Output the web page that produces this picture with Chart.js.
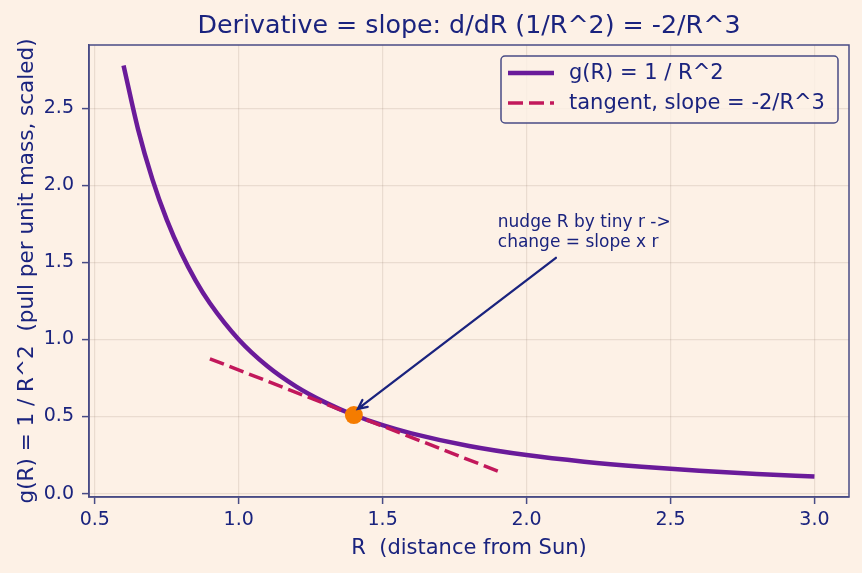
<!DOCTYPE html>
<html>
<head>
<meta charset="utf-8">
<title>Derivative = slope</title>
<script src="https://cdn.jsdelivr.net/npm/chart.js@4.4.1/dist/chart.umd.min.js"></script>
<style>
  html, body { margin: 0; padding: 0; background: #fdf1e6; }
  #wrap { width: 862px; height: 573px; }
</style>
</head>
<body>
<div id="wrap"><canvas id="derivChart"></canvas></div>
<script>
// g(R) = 1/R^2
const rValues = [0.6, 0.65, 0.7, 0.75, 0.8, 0.85, 0.9, 1.0, 1.1, 1.2, 1.3, 1.4, 1.5, 1.6, 1.8, 2.0, 2.2, 2.4, 2.6, 2.8, 3.0];
const gValues = [2.778, 2.367, 2.041, 1.778, 1.563, 1.384, 1.235, 1.000, 0.826, 0.694, 0.592, 0.510, 0.444, 0.391, 0.309, 0.250, 0.207, 0.174, 0.148, 0.128, 0.111];

// tangent line at R = 1.4
const tangentR = [0.9, 1.9];
const tangentG = [0.875, 0.146];

// touch point
const touchR = [1.4];
const touchG = [0.51];

const xTicks = [0.5, 1.0, 1.5, 2.0, 2.5, 3.0];
const yTicks = [0.0, 0.5, 1.0, 1.5, 2.0, 2.5];
const seriesLabels = ['g(R) = 1 / R^2', 'tangent, slope = -2/R^3'];

const titleText = 'Derivative = slope: d/dR (1/R^2) = -2/R^3';
const noteLines = ['nudge R by tiny r ->', 'change = slope x r'];
const noteAt = [1.9, 1.6];       // last line baseline, data coords
const arrowFrom = [2.102, 1.53];
const arrowTo = [1.414, 0.55];

const BG = '#fdf1e6';
const NAVY = '#1a237e';
const SPINE = '#484b85';
const GRID = 'rgba(150, 130, 110, 0.18)';
const PURPLE = '#6a1b9a';
const CRIMSON = '#c2185b';
const ORANGE = '#f57c00';
const FONT = "'DejaVu Sans', sans-serif";

Chart.defaults.font.family = FONT;
Chart.defaults.color = NAVY;

const toPoints = (xs, ys) => xs.map((x, i) => ({ x: x, y: ys[i] }));

/**
 * Title, frame, annotation and legend drawn on the canvas
 */
const decorPlugin = {
  id: 'decor',
  beforeDraw(chart) {
    const { ctx, width, height } = chart;
    ctx.save();
    ctx.fillStyle = BG;
    ctx.fillRect(0, 0, width, height);
    ctx.restore();
  },
  afterDatasetsDraw(chart) {
    const { ctx, scales: { x, y } } = chart;
    ctx.save();

    // note text
    ctx.fillStyle = NAVY;
    ctx.font = `17px ${FONT}`;
    ctx.textAlign = 'left';
    ctx.textBaseline = 'alphabetic';
    const tx = x.getPixelForValue(noteAt[0]);
    const ty = y.getPixelForValue(noteAt[1]);
    noteLines.forEach((line, i) => {
      ctx.fillText(line, tx, ty - (noteLines.length - 1 - i) * 20);
    });

    // arrow
    const x1 = x.getPixelForValue(arrowFrom[0]);
    const y1 = y.getPixelForValue(arrowFrom[1]);
    const x2 = x.getPixelForValue(arrowTo[0]);
    const y2 = y.getPixelForValue(arrowTo[1]);
    const ang = Math.atan2(y2 - y1, x2 - x1);
    const head = 10;
    ctx.strokeStyle = NAVY;
    ctx.lineWidth = 2.3;
    ctx.lineCap = 'round';
    ctx.beginPath();
    ctx.moveTo(x1, y1);
    ctx.lineTo(x2, y2);
    ctx.moveTo(x2 - head * Math.cos(ang - 0.45), y2 - head * Math.sin(ang - 0.45));
    ctx.lineTo(x2, y2);
    ctx.lineTo(x2 - head * Math.cos(ang + 0.45), y2 - head * Math.sin(ang + 0.45));
    ctx.stroke();
    ctx.restore();
  },
  afterDraw(chart) {
    const { ctx, chartArea: a } = chart;
    ctx.save();

    // title
    ctx.fillStyle = NAVY;
    ctx.font = `25.3px ${FONT}`;
    ctx.textAlign = 'center';
    ctx.textBaseline = 'alphabetic';
    ctx.fillText(titleText, (a.left + a.right) / 2, 33);

    // frame
    ctx.strokeStyle = SPINE;
    ctx.lineWidth = 1.5;
    ctx.strokeRect(a.left, a.top, a.right - a.left, a.bottom - a.top);

    // legend
    const bx = 501, by = 56, bw = 337, bh = 67;
    ctx.beginPath();
    ctx.roundRect(bx, by, bw, bh, 4);
    ctx.fillStyle = 'rgba(253, 241, 230, 0.8)';
    ctx.fill();
    ctx.strokeStyle = SPINE;
    ctx.lineWidth = 1.5;
    ctx.stroke();

    ctx.font = `21px ${FONT}`;
    ctx.textAlign = 'left';
    ctx.textBaseline = 'middle';
    chart.data.datasets.slice(0, 2).forEach((ds, i) => {
      const ry = by + 17 + i * 30;
      ctx.strokeStyle = ds.borderColor;
      ctx.lineWidth = ds.borderWidth;
      ctx.setLineDash(ds.borderDash || []);
      ctx.lineCap = 'butt';
      ctx.beginPath();
      ctx.moveTo(bx + 7, ry);
      ctx.lineTo(bx + 53, ry);
      ctx.stroke();
      ctx.setLineDash([]);
      ctx.fillStyle = NAVY;
      ctx.fillText(ds.label, bx + 68, ry + 1);
    });
    ctx.restore();
  },
};

new Chart(document.getElementById('derivChart'), {
  type: 'line',
  data: {
    datasets: [
      {
        label: seriesLabels[0],
        data: toPoints(rValues, gValues),
        borderColor: PURPLE,
        borderWidth: 4.5,
        pointRadius: 0,
        cubicInterpolationMode: 'monotone',
        fill: false,
        order: 2,
      },
      {
        label: seriesLabels[1],
        data: toPoints(tangentR, tangentG),
        borderColor: CRIMSON,
        borderWidth: 3.5,
        borderDash: [15, 6],
        pointRadius: 0,
        fill: false,
        order: 1,
      },
      {
        label: 'point',
        data: toPoints(touchR, touchG),
        showLine: false,
        pointRadius: 9,
        pointBackgroundColor: ORANGE,
        pointBorderColor: ORANGE,
        pointBorderWidth: 0,
        order: 0,
      },
    ],
  },
  options: {
    responsive: true,
    maintainAspectRatio: false,
    animation: false,
    layout: { padding: { top: 45, right: 13, left: 0, bottom: 0 } },
    plugins: {
      legend: { display: false },
      title: { display: false },
      tooltip: { enabled: false },
    },
    scales: {
      x: {
        type: 'linear',
        min: 0.48,
        max: 3.12,
        afterBuildTicks: (s) => { s.ticks = xTicks.map(v => ({ value: v })); },
        afterFit: (s) => { s.height = 76; },
        ticks: {
          color: NAVY,
          font: { size: 19 },
          padding: 5,
          maxRotation: 0,
          autoSkip: false,
          callback: (v) => Number(v).toFixed(1),
        },
        grid: { color: GRID, lineWidth: 1.2, tickLength: 7, tickColor: SPINE, tickWidth: 1.5 },
        border: { color: SPINE, width: 1.5 },
        title: {
          display: true,
          text: 'R  (distance from Sun)',
          color: NAVY,
          font: { size: 21 },
          padding: { top: 0, bottom: 12 },
        },
      },
      y: {
        type: 'linear',
        min: -0.022,
        max: 2.911,
        afterBuildTicks: (s) => { s.ticks = yTicks.map(v => ({ value: v })); },
        afterFit: (s) => { s.width = 89; },
        ticks: {
          color: NAVY,
          font: { size: 19 },
          padding: 8,
          autoSkip: false,
          callback: (v) => Number(v).toFixed(1),
        },
        grid: { color: GRID, lineWidth: 1.2, tickLength: 7, tickColor: SPINE, tickWidth: 1.5 },
        border: { color: SPINE, width: 1.5 },
        title: {
          display: true,
          text: 'g(R) = 1 / R^2  (pull per unit mass, scaled)',
          color: NAVY,
          font: { size: 21.5 },
          padding: { top: 15, bottom: 0 },
        },
      },
    },
  },
  plugins: [decorPlugin],
});
</script>
</body>
</html>
